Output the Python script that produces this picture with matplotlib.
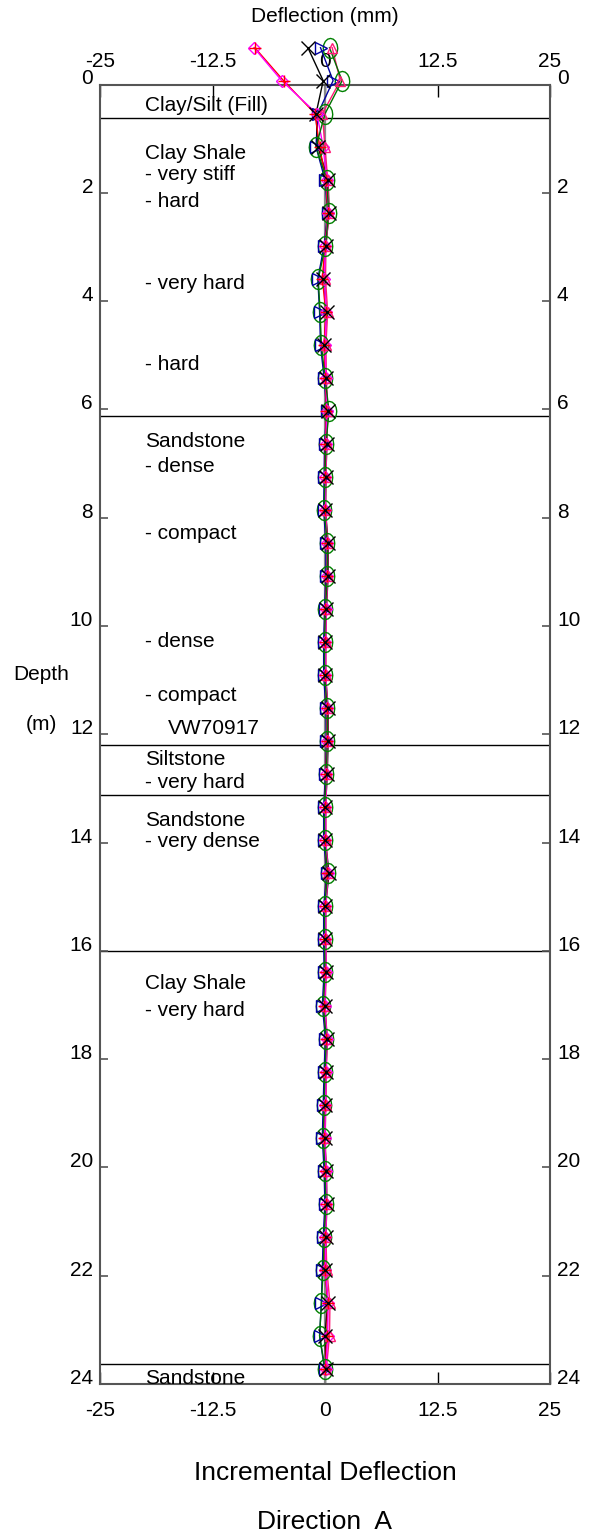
import numpy as np
import matplotlib
matplotlib.use("Agg")
import matplotlib.pyplot as plt
from matplotlib.path import Path

plt.rcParams['font.family'] = ['Liberation Sans', 'DejaVu Sans']

# ---------------- data ----------------
depth = [-0.68, -0.07, 0.54, 1.15, 1.76, 2.37, 2.98, 3.59, 4.20, 4.81, 5.42, 6.03,
         6.64, 7.25, 7.86, 8.47, 9.08, 9.69, 10.30, 10.91, 11.52, 12.13, 12.74,
         13.35, 13.96, 14.57, 15.18, 15.79, 16.40, 17.01, 17.62, 18.23, 18.84,
         19.45, 20.06, 20.67, 21.28, 21.89, 22.50, 23.11, 23.72]

green = [0.5, 1.9, 0.0, -1.0, 0.2, 0.4, 0.05, -0.75, -0.55, -0.4, 0.0, 0.45, 0.1, 0.0,
         -0.1, 0.25, 0.25, 0.05, -0.05, -0.05, 0.25, 0.25, 0.15, -0.05, -0.05, 0.3,
         -0.05, -0.05, 0.0, -0.2, 0.15, 0.0, -0.1, -0.2, 0.0, 0.1, -0.1, -0.2, -0.4,
         -0.6, 0.0]
black = [-1.9, -0.2, -1.0, -0.8, 0.35, 0.45, 0.1, -0.2, 0.2, -0.1, 0.1, 0.3, 0.2, 0.1,
         0.05, 0.35, 0.35, 0.15, 0.05, 0.05, 0.35, 0.35, 0.25, 0.05, 0.05, 0.45, 0.05,
         0.05, 0.1, -0.05, 0.25, 0.1, 0.05, -0.05, 0.15, 0.2, 0.1, 0.05, 0.3, 0.0, 0.1]
blue = [-0.5, 0.9, -0.8, -1.0, 0.0, 0.3, -0.1, -0.8, -0.6, -0.5, -0.1, 0.2, -0.05, -0.1,
        -0.15, 0.1, 0.1, -0.05, -0.15, -0.15, 0.1, 0.15, 0.05, -0.15, -0.15, 0.2, -0.15,
        -0.15, -0.1, -0.3, 0.05, -0.1, -0.2, -0.3, -0.1, 0.0, -0.2, -0.3, -0.4, -0.6, -0.05]
red = [-7.8, -4.6, -1.1, -0.6, 0.1, 0.3, 0.0, -0.3, 0.1, -0.1, 0.05, 0.15, 0.05, 0.0,
       0.0, 0.2, 0.2, 0.05, 0.0, 0.0, 0.2, 0.2, 0.1, 0.0, 0.0, 0.25, 0.0, 0.0, 0.05,
       -0.1, 0.15, 0.05, 0.0, -0.1, 0.05, 0.1, 0.0, 0.0, 0.3, 0.2, 0.05]
magenta = [-7.9, -4.8, -0.9, -0.2, 0.2, 0.35, 0.05, -0.1, 0.15, 0.0, 0.1, 0.2, 0.1, 0.05,
           0.0, 0.2, 0.25, 0.1, 0.05, 0.05, 0.25, 0.25, 0.15, 0.05, 0.05, 0.3, 0.05, 0.05,
           0.1, -0.05, 0.2, 0.1, 0.05, -0.05, 0.1, 0.15, 0.05, 0.05, 0.35, 0.3, 0.1]
pink = [0.8, 1.7, -0.3, 0.0, 0.3, 0.45, 0.1, 0.05, 0.3, 0.1, 0.15, 0.3, 0.2, 0.1, 0.05,
        0.3, 0.3, 0.15, 0.1, 0.1, 0.3, 0.3, 0.2, 0.1, 0.1, 0.35, 0.1, 0.1, 0.15, 0.0,
        0.25, 0.15, 0.1, 0.0, 0.15, 0.2, 0.1, 0.2, 0.55, 0.5, 0.15]

layer_bounds = [0.61, 6.12, 12.2, 13.12, 16.0, 23.63]
layer_labels = ["Clay/Silt (Fill)", "Clay Shale", "- very stiff", "- hard", "- very hard",
                "- hard", "Sandstone", "- dense", "- compact", "- dense", "- compact",
                "Siltstone", "- very hard", "Sandstone", "- very dense", "Clay Shale",
                "- very hard", "Sandstone"]
layer_label_depths = [0.38, 1.27, 1.67, 2.17, 3.67, 5.17, 6.6, 7.05, 8.3, 10.29, 11.28,
                      12.47, 12.89, 13.6, 13.98, 16.6, 17.1, 23.9]
inst_label = "VW70917"
inst_depth = 11.89

xticks = [-25, -12.5, 0, 12.5, 25]
xticklabels = ["-25", "-12.5", "0", "12.5", "25"]
yticks = [0, 2, 4, 6, 8, 10, 12, 14, 16, 18, 20, 22, 24]

# ---------------- figure ----------------
W, H = 597, 1537
fig = plt.figure(figsize=(W / 100, H / 100), dpi=100)
ax = fig.add_axes([100 / W, 1 - 1384 / H, 450 / W, (1384 - 84.5) / H])
ax.set_xlim(-25, 25)
ax.set_ylim(24, 0)

for s in ax.spines.values():
    s.set_color('#555555')
    s.set_linewidth(1.5)

ax.set_xticks(xticks)
ax.set_xticklabels(xticklabels)
ax.set_yticks(yticks)
ax.set_yticklabels([str(v) for v in yticks])
ax.tick_params(axis='x', direction='in', length=8.5, width=1, top=True, bottom=True,
               labeltop=True, labelbottom=True, labelsize=15, color='black')
ax.tick_params(axis='y', direction='in', length=6, width=1.2, left=True, right=True,
               labelleft=True, labelright=True, labelsize=15, pad=5, color='#555555')
for t in ax.yaxis.get_major_ticks():
    t.label1.set_va('baseline')
    t.label2.set_va('baseline')
for t in ax.xaxis.get_major_ticks():
    t.label2.set_va('bottom')

# layer boundaries
for d in layer_bounds:
    ax.axhline(d, color='black', lw=1.0, zorder=1)

# zero reference line
ax.plot([0, 0], [0, 24], color='#888888', lw=1.6, zorder=2)

# layer labels
for lab, d in zip(layer_labels, layer_label_depths):
    ax.text(-20.0, d, lab, fontsize=15, va='center', ha='left', zorder=3)
ax.text(-17.4, inst_depth, inst_label, fontsize=15, va='center', ha='left', zorder=3)

# ellipse marker
th = np.linspace(0, 2 * np.pi, 17)
ell = Path(np.column_stack([0.72 * np.cos(th), np.sin(th)]), closed=True)

# lines (green drawn last so it dominates, as in the reference)
line_order = [
    (blue, '#0000A0', 4),
    (black, '#000000', 5),
    (red, '#FF0000', 6),
    (pink, '#FF1a75', 7),
    (magenta, '#FF00FF', 8),
    (green, '#007000', 9),
]
for vals, col, z in line_order:
    ax.plot(vals, depth, color=col, lw=1.0, clip_on=False, zorder=z)

markers = [
    (green, '#008000', ell, 14.5),
    (blue, '#0000A0', '>', 8.5),
    (magenta, '#FF00FF', 'D', 6.5),
    (pink, '#FF1a75', '^', 7),
    (red, '#FF0000', '+', 9),
    (black, '#000000', 'x', 9.5),
]
for i, (vals, col, mk, ms) in enumerate(markers):
    ax.plot(vals, depth, ls='none', marker=mk, ms=ms, mfc='none', mec=col,
            mew=1.0, clip_on=False, zorder=10 + i)

# texts
fig.text(325 / W, 1 - 17 / H, "Deflection (mm)", fontsize=15, ha='center', va='center')
fig.text(41 / W, 1 - 675 / H, "Depth", fontsize=15, ha='center', va='center')
fig.text(41 / W, 1 - 725 / H, "(m)", fontsize=15, ha='center', va='center')
fig.text(325 / W, 1 - 1473 / H, "Incremental Deflection", fontsize=19, ha='center', va='center')
fig.text(325 / W, 1 - 1522 / H, "Direction  A", fontsize=19, ha='center', va='center')

fig.canvas.draw()
# fine tune x tick label positions: top labels a bit further up, bottom a bit lower
for t in ax.xaxis.get_major_ticks():
    t.set_pad(9.5)
fig.canvas.draw()
for t in ax.xaxis.get_major_ticks():
    t.label1.set_y(-(3.5 / 1299.5))
fig.savefig("out.png", dpi=100)
